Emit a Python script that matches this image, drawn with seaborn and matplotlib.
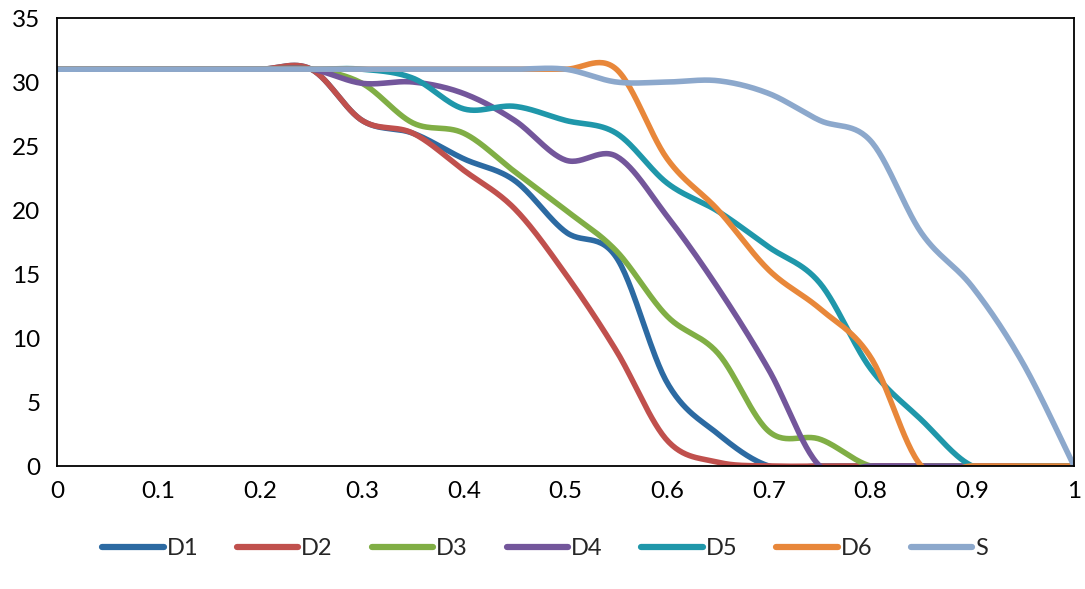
import numpy as np
import pandas as pd
import matplotlib
matplotlib.use("Agg")
import matplotlib.pyplot as plt
import seaborn as sns

# ---- data ----
x_vals = [0, 0.05, 0.1, 0.15, 0.2, 0.25, 0.3, 0.35, 0.4, 0.45, 0.5,
          0.55, 0.6, 0.65, 0.7, 0.75, 0.8, 0.85, 0.9, 0.95, 1.0]
D1 = [31, 31, 31, 31, 31, 31, 27.0, 26.0, 24.0, 22.3, 18.3, 16.3, 6.5, 2.5, 0, 0, 0, 0, 0, 0, 0]
D2 = [31, 31, 31, 31, 31, 31, 27.0, 26.0, 23.1, 20.1, 15.0, 9.0, 2.0, 0.3, 0, 0, 0, 0, 0, 0, 0]
D3 = [31, 31, 31, 31, 31, 31, 29.9, 26.8, 26.0, 23.0, 20.0, 16.8, 11.7, 8.8, 2.7, 2.1, 0, 0, 0, 0, 0]
D4 = [31, 31, 31, 31, 31, 31, 29.9, 30.0, 29.1, 27.0, 23.9, 24.2, 19.5, 13.9, 7.5, 0, 0, 0, 0, 0, 0]
D5 = [31, 31, 31, 31, 31, 31, 31, 30.3, 27.9, 28.1, 27.0, 26.0, 22.1, 19.9, 17.1, 14.3, 7.6, 3.6, 0, 0, 0]
D6 = [31, 31, 31, 31, 31, 31, 31, 31, 31, 31, 31, 31, 24.0, 20.0, 15.3, 12.3, 8.5, 0, 0, 0, 0]
S = [31, 31, 31, 31, 31, 31, 31, 31, 31, 31, 31, 30.0, 30.0, 30.1, 29.1, 27.0, 25.4, 18.2, 14.0, 8.0, 0]

series_names = ["D1", "D2", "D3", "D4", "D5", "D6", "S"]
series_values = [D1, D2, D3, D4, D5, D6, S]
colors = ["#2c6aa2", "#c0504d", "#80ae45", "#73569b", "#1f97aa", "#e8873a", "#8ca8cc"]
x_tick_labels = ["0", "0.1", "0.2", "0.3", "0.4", "0.5", "0.6", "0.7", "0.8", "0.9", "1"]
y_ticks = [0, 5, 10, 15, 20, 25, 30, 35]


def smooth(xs, ys, n=30):
    """Excel-like smoothed line (cubic Bezier through the data points)."""
    xs = np.asarray(xs, float)
    ys = np.asarray(ys, float)
    P = np.column_stack([xs, ys])
    out = []
    for i in range(len(P) - 1):
        p0 = P[i - 1] if i > 0 else P[i]
        p1 = P[i]
        p2 = P[i + 1]
        p3 = P[i + 2] if i + 2 < len(P) else P[i + 1]
        c1 = p1 + (p2 - p0) / 6.0
        c2 = p2 - (p3 - p1) / 6.0
        t = np.linspace(0, 1, n, endpoint=(i == len(P) - 2))[:, None]
        b = ((1 - t) ** 3) * p1 + 3 * ((1 - t) ** 2) * t * c1 + 3 * (1 - t) * t ** 2 * c2 + t ** 3 * p2
        out.append(b)
    B = np.vstack(out)
    return B[:, 0], B[:, 1]


rows = []
for name, vals in zip(series_names, series_values):
    sx, sy = smooth(x_vals, vals)
    for k, (a, b) in enumerate(zip(sx, sy)):
        rows.append({"x": a, "y": b, "series": name, "order": k})
df = pd.DataFrame(rows)

sns.set_theme(style="white")
plt.rcParams["font.family"] = ["Lato", "DejaVu Sans"]

fig = plt.figure(figsize=(10.85, 5.89), dpi=100)
ax = fig.add_axes([0.0525, 0.2088, 0.9374, 0.7606])

sns.lineplot(data=df, x="x", y="y", hue="series", hue_order=series_names,
             palette=dict(zip(series_names, colors)), sort=False, estimator=None,
             units="series", linewidth=4.0, ax=ax, legend=True)

ax.set_xlim(0, 1)
ax.set_ylim(0, 35)
ax.set_xticks(np.linspace(0, 1, 11))
ax.set_xticklabels(x_tick_labels)
ax.set_yticks(y_ticks)
ax.set_xlabel("")
ax.set_ylabel("")
ax.tick_params(axis="both", length=0, labelsize=17.5, colors="#000000")
ax.tick_params(axis="x", pad=11)
ax.tick_params(axis="y", pad=12)
for sp in ax.spines.values():
    sp.set_visible(True)
    sp.set_color("#000000")
    sp.set_linewidth(1.3)

handles, labels = ax.get_legend_handles_labels()
for h in handles:
    h.set_linewidth(4.5)
ax.legend(handles, labels, loc="center", bbox_to_anchor=(0.48, -0.185), ncol=7,
          frameon=False, fontsize=17, handlelength=2.6, handletextpad=0.12,
          columnspacing=1.65)

fig.savefig("out.png", dpi=100)
